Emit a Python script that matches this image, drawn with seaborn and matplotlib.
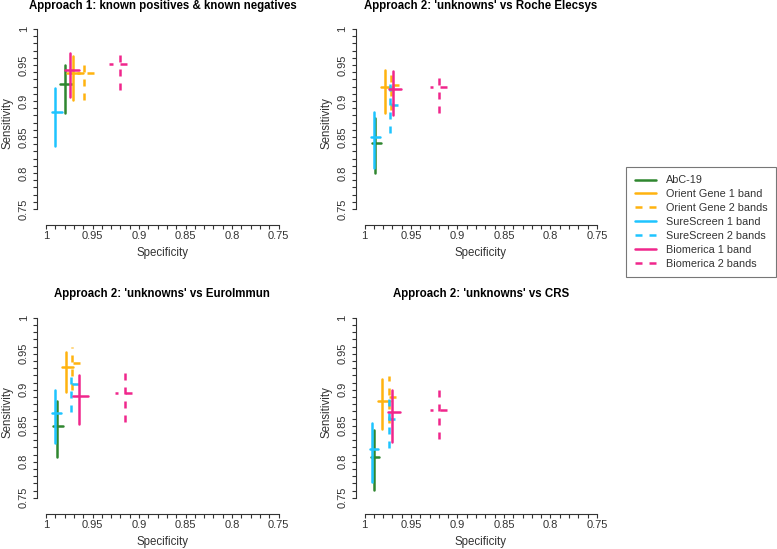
import numpy as np
import pandas as pd
import matplotlib
matplotlib.use('Agg')
import matplotlib.pyplot as plt
from matplotlib.lines import Line2D
import seaborn as sb

sb.set_style('white')
plt.rcParams['font.family'] = ['Liberation Sans', 'DejaVu Sans']

products = ['AbC-19', 'Orient Gene 1 band', 'Orient Gene 2 bands', 'SureScreen 1 band',
            'SureScreen 2 bands', 'Biomerica 1 band', 'Biomerica 2 bands']
titles = ['Approach 1: known positives & known negatives',
          "Approach 2: 'unknowns' vs Roche Elecsys",
          "Approach 2: 'unknowns' vs EuroImmun",
          "Approach 2: 'unknowns' vs CRS"]

# approach 1
spec_1 = [0.980, 0.971, 0.959, 0.990, np.nan, 0.974, 0.920]
spec_lo_1 = [0.972, 0.960, 0.948, 0.983, np.nan, 0.965, 0.913]
spec_hi_1 = [0.985, 0.977, 0.967, 0.9935, np.nan, 0.980, 0.932]
sens_1 = [0.924, 0.939, 0.939, 0.885, np.nan, 0.943, 0.951]
sens_lo_1 = [0.884, 0.901, 0.901, 0.838, np.nan, 0.906, 0.915]
sens_hi_1 = [0.950, 0.9625, 0.958, 0.918, np.nan, 0.966, 0.972]

# roche
spec_2 = [0.989, 0.978, 0.9716, 0.990, 0.9724, 0.9695, 0.9197]
spec_lo_2 = [0.982, 0.9695, 0.9624, 0.983, 0.964, 0.961, 0.9108]
spec_hi_2 = [0.9917, 0.982, 0.977, 0.9928, 0.9767, 0.974, 0.930]
sens_2 = [0.842, 0.920, 0.922, 0.850, 0.895, 0.917, 0.919]
sens_lo_2 = [0.800, 0.884, 0.8875, 0.807, 0.856, 0.880, 0.884]
sens_hi_2 = [0.877, 0.943, 0.944, 0.885, 0.925, 0.941, 0.940]

# euroimmun
spec_3 = [0.988, 0.9785, 0.972, 0.9907, 0.9728, 0.9645, 0.915]
spec_lo_3 = [0.982, 0.9706, 0.9634, 0.984, 0.964, 0.955, 0.907]
spec_hi_3 = [0.992, 0.983, 0.9785, 0.9935, 0.978, 0.9706, 0.926]
sens_3 = [0.849, 0.9315, 0.9375, 0.868, 0.9075, 0.8917, 0.895]
sens_lo_3 = [0.806, 0.897, 0.900, 0.8255, 0.869, 0.852, 0.8556]
sens_hi_3 = [0.884, 0.953, 0.959, 0.900, 0.927, 0.920, 0.9236]

# crs
spec_4 = [0.990, 0.981, 0.974, 0.9917, 0.974, 0.970, 0.9197]
spec_lo_4 = [0.984, 0.9724, 0.966, 0.9857, 0.967, 0.9616, 0.911]
spec_hi_4 = [0.9935, 0.985, 0.9796, 0.9946, 0.980, 0.975, 0.930]
sens_4 = [0.806, 0.885, 0.890, 0.817, 0.859, 0.869, 0.8714]
sens_lo_4 = [0.761, 0.846, 0.854, 0.772, 0.819, 0.828, 0.831]
sens_hi_4 = [0.844, 0.915, 0.9195, 0.854, 0.893, 0.900, 0.9028]

panels = [
    (spec_1, spec_lo_1, spec_hi_1, sens_1, sens_lo_1, sens_hi_1),
    (spec_2, spec_lo_2, spec_hi_2, sens_2, sens_lo_2, sens_hi_2),
    (spec_3, spec_lo_3, spec_hi_3, sens_3, sens_lo_3, sens_hi_3),
    (spec_4, spec_lo_4, spec_hi_4, sens_4, sens_lo_4, sens_hi_4),
]

colours = {'AbC-19': '#2f862f', 'Orient Gene 1 band': '#ffb30f', 'Orient Gene 2 bands': '#ffb30f',
           'SureScreen 1 band': '#1ec4ff', 'SureScreen 2 bands': '#1ec4ff',
           'Biomerica 1 band': '#f0268c', 'Biomerica 2 bands': '#f0268c'}
dash = (2.8, 2.8)
dashes = {p: (dash if p.endswith('bands') else '') for p in products}

# one row per segment end: vertical = sensitivity CI, horizontal = specificity CI
rows = []
for k, (sp, sp_lo, sp_hi, se, se_lo, se_hi) in enumerate(panels):
    for i, p in enumerate(products):
        if np.isnan(sp[i]):
            continue
        rows.append((k, p, f'{p}_v', sp[i], se_lo[i]))
        rows.append((k, p, f'{p}_v', sp[i], se_hi[i]))
        rows.append((k, p, f'{p}_h', sp_lo[i], se[i]))
        rows.append((k, p, f'{p}_h', sp_hi[i], se[i]))
df = pd.DataFrame(rows, columns=['panel', 'product', 'seg', 'spec', 'sens'])

W, H = 777, 549
fig = plt.figure(figsize=(W / 100, H / 100), dpi=100)

# pixel geometry (from top-left): x=1 position, y=1 position
x_one = [46, 364.5, 46, 364.5]
y_one = [29, 29, 317.7, 317.7]
px_x = 930.0   # px per unit specificity
px_y = 720.0   # px per unit sensitivity
gap_x = 9      # y spine left of x=1
gap_y = 16     # x spine below y=0.75

ticks = np.round(np.arange(0.75, 1.0001, 0.01), 2)
labels = [f'{t:g}' if round(t * 100) % 5 == 0 else '' for t in ticks]
ink = '#333333'

for k in range(4):
    left = x_one[k] - gap_x
    right = x_one[k] + 0.26 * px_x
    top = y_one[k] - 0.01 * px_y
    bottom = y_one[k] + 0.25 * px_y + gap_y
    ax = fig.add_axes([left / W, 1 - bottom / H, (right - left) / W, (bottom - top) / H])
    sub = df[df['panel'] == k]
    sb.lineplot(data=sub, x='spec', y='sens', hue='product', style='product', units='seg',
                estimator=None, sort=False, palette=colours, dashes=dashes,
                hue_order=products, style_order=products, linewidth=1.8,
                legend=False, ax=ax)
    ax.set_xlim(1 + gap_x / px_x, 0.74)
    ax.set_ylim(0.75 - gap_y / px_y, 1.01)
    ax.set_xticks(ticks)
    ax.set_xticklabels(labels)
    ax.set_yticks(ticks)
    ax.set_yticklabels(labels, rotation=90, va='center')
    ax.tick_params(axis='both', bottom=True, left=True, direction='out', length=3.2,
                   width=0.8, color=ink, labelcolor=ink, labelsize=8)
    ax.tick_params(axis='x', pad=1.2)
    ax.tick_params(axis='y', pad=2.6)
    for s in ['top', 'right']:
        ax.spines[s].set_visible(False)
    ax.spines['left'].set_bounds(0.75, 1)
    ax.spines['bottom'].set_bounds(0.75, 1)
    for s in ['left', 'bottom']:
        ax.spines[s].set_color(ink)
        ax.spines[s].set_linewidth(0.8)
    ax.set_xlabel('')
    ax.set_ylabel('')
    ax.grid(False)
    cx = (left + right) / 2
    fig.text(cx / W, 1 - (y_one[k] - 23.5) / H, titles[k], ha='center', va='center',
             fontsize=8.3, fontweight='bold', color='black')
    fig.text(cx / W, 1 - (y_one[k] + 224) / H, 'Specificity', ha='center', va='center',
             fontsize=8.3, color=ink)
    fig.text((left - 29) / W, 1 - ((top + bottom) / 2) / H, 'Sensitivity', ha='center',
             va='center', rotation=90, fontsize=8.3, color=ink)

handles = [Line2D([0], [0], color=colours[p], lw=1.8,
                  linestyle=(0, dash) if p.endswith('bands') else '-') for p in products]
leg = fig.legend(handles, products, loc='upper left', bbox_to_anchor=(626 / W, 1 - 166.7 / H),
                 frameon=True, fancybox=False, fontsize=7.8, handlelength=2.0,
                 handletextpad=0.9, labelspacing=0.36, borderpad=0.8, borderaxespad=0)
leg.get_frame().set_edgecolor('#555555')
leg.get_frame().set_linewidth(0.8)
for t in leg.get_texts():
    t.set_color(ink)

fig.savefig('out.png', dpi=100)
